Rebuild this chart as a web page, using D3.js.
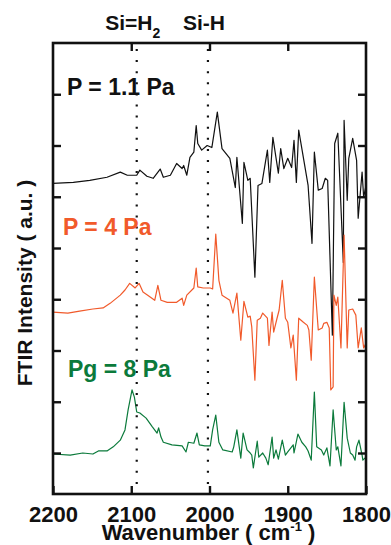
<!DOCTYPE html>
<html>
<head>
<meta charset="utf-8">
<script src="https://cdn.jsdelivr.net/npm/d3@7"></script>
<style>
  html, body { margin: 0; padding: 0; background: #fff; }
  svg { display: block; }
  text { font-family: "Liberation Sans", Arial, Helvetica, sans-serif; font-weight: bold; }
</style>
</head>
<body>
<svg id="chart" width="391" height="545"></svg>
<script>
// Wavenumber axis (cm^-1) and intensity ticks (arbitrary units, one unit per tick)
const xTicks = [2200, 2100, 2000, 1900, 1800];
const yTicks = [0, 1, 2, 3, 4, 5, 6, 7];

// Spectrum at P = 1.1 Pa
const wnLow = [2200, 2174, 2153, 2131, 2114, 2105, 2093, 2089, 2080, 2072, 2063, 2059, 2050, 2042, 2035, 2033, 2029, 2025, 2020, 2017, 2015, 2010, 2003, 1997, 1990, 1984, 1974, 1967, 1965, 1958, 1956, 1951, 1948, 1942, 1938, 1933, 1926, 1923, 1919, 1912, 1909, 1905, 1900, 1895, 1892, 1889, 1886, 1874, 1869, 1866, 1861, 1856, 1852, 1849, 1843, 1840, 1836, 1829, 1828, 1824, 1822, 1817, 1812, 1810, 1805, 1803, 1800];
const intLow = [5.26, 5.28, 5.32, 5.38, 5.48, 5.42, 5.42, 5.52, 5.40, 5.36, 5.54, 5.38, 5.42, 5.65, 5.55, 5.61, 5.42, 5.77, 5.87, 6.39, 6.04, 5.91, 6.00, 5.96, 6.65, 5.94, 5.75, 5.18, 5.77, 4.48, 5.67, 5.32, 5.36, 3.43, 5.22, 5.26, 5.91, 5.28, 6.16, 5.46, 5.94, 5.55, 5.75, 5.57, 6.10, 5.28, 6.30, 5.22, 4.09, 5.87, 5.13, 5.16, 5.36, 5.32, 2.30, 6.04, 6.24, 3.72, 6.49, 4.93, 5.75, 6.14, 5.71, 4.58, 5.48, 4.99, 5.22];

// Spectrum at P = 4 Pa
const wnMid = [2200, 2181, 2166, 2149, 2136, 2127, 2114, 2108, 2102, 2095, 2090, 2085, 2079, 2070, 2066, 2062, 2054, 2042, 2035, 2033, 2029, 2020, 2017, 2015, 2008, 1999, 1996, 1992, 1988, 1984, 1974, 1970, 1965, 1960, 1956, 1951, 1948, 1946, 1942, 1939, 1935, 1932, 1926, 1924, 1920, 1918, 1914, 1911, 1907, 1903, 1900, 1896, 1893, 1889, 1886, 1880, 1875, 1873, 1870, 1866, 1861, 1856, 1854, 1850, 1847, 1845, 1842, 1841, 1838, 1836, 1832, 1828, 1824, 1822, 1817, 1813, 1810, 1806, 1803, 1800];
const intMid = [2.75, 2.73, 2.77, 2.81, 2.83, 2.92, 3.08, 3.18, 3.31, 3.22, 3.31, 3.14, 3.08, 2.98, 3.27, 2.98, 2.94, 2.94, 3.02, 2.88, 3.08, 3.22, 3.61, 3.24, 3.22, 3.22, 3.20, 4.27, 3.37, 3.08, 2.98, 2.73, 3.12, 2.20, 2.96, 2.65, 2.67, 2.46, 1.42, 2.59, 2.63, 2.73, 2.63, 2.10, 2.75, 2.36, 2.61, 2.79, 3.37, 2.63, 2.55, 2.05, 2.30, 1.42, 2.63, 2.55, 2.49, 2.40, 1.81, 3.43, 2.40, 2.44, 2.53, 2.55, 2.44, 1.23, 1.29, 3.08, 2.88, 3.04, 2.05, 4.25, 2.05, 2.79, 2.81, 2.69, 2.05, 2.44, 2.05, 2.14];

// Spectrum at Pg = 8 Pa
const wnHigh = [2200, 2178, 2162, 2149, 2142, 2131, 2123, 2114, 2108, 2104, 2099, 2096, 2093, 2089, 2081, 2073, 2067, 2065, 2062, 2059, 2048, 2035, 2030, 2027, 2020, 2016, 2013, 2006, 1999, 1996, 1992, 1988, 1983, 1971, 1969, 1965, 1962, 1960, 1957, 1952, 1948, 1946, 1944, 1939, 1937, 1932, 1928, 1925, 1920, 1918, 1915, 1912, 1907, 1903, 1900, 1893, 1892, 1887, 1882, 1877, 1874, 1870, 1866, 1863, 1857, 1854, 1850, 1846, 1842, 1838, 1836, 1832, 1828, 1824, 1820, 1817, 1814, 1812, 1809, 1805, 1804, 1800];
const intHigh = [-0.02, -0.04, 0.00, -0.02, 0.04, 0.04, 0.12, 0.25, 0.45, 0.84, 1.23, 1.09, 0.80, 0.78, 0.68, 0.51, 0.39, 0.49, 0.31, 0.21, 0.16, 0.14, 0.02, 0.21, 0.19, 0.39, 0.16, 0.14, 0.14, 0.45, 0.74, 0.21, 0.06, 0.02, 0.12, 0.45, 0.12, -0.10, 0.39, 0.06, 0.00, -0.04, -0.29, 0.23, -0.08, 0.00, -0.10, -0.23, 0.31, -0.10, 0.06, -0.12, 0.25, -0.04, 0.02, 0.16, 0.00, 0.37, 0.21, 0.12, 0.04, -0.14, 1.19, 0.12, 0.06, -0.04, 0.10, -0.25, 0.84, 0.06, 0.12, -0.25, 0.99, 0.29, 0.00, -0.04, -0.14, 0.12, 0.25, -0.04, -0.14, -0.08];

// Series labels and colours
const seriesNames = ["P = 1.1 Pa", "P = 4 Pa", "Pg = 8 Pa"];
const seriesColors = ["#111111", "#f15a2b", "#0b7a3b"];

// Bond assignments marked with dotted lines
const bondNames = ["Si=H", "Si-H"];
const bondSubs = ["2", ""];
const bondPositions = [2093, 2002];

const svg = d3.select("#chart");
const plotLeft = 53, plotRight = 366, plotTop = 43, plotBottom = 494;

const x = d3.scaleLinear().domain([2200, 1800]).range([plotLeft, plotRight]);
const y = d3.scaleLinear().domain([-0.8, 8]).range([plotBottom, plotTop]);

const series = [
  { wn: wnLow, val: intLow },
  { wn: wnMid, val: intMid },
  { wn: wnHigh, val: intHigh }
].map((s, i) => ({
  name: seriesNames[i],
  color: seriesColors[i],
  points: s.wn.map((w, j) => [w, s.val[j]])
}));

const line = d3.line().x(d => x(d[0])).y(d => y(d[1]));

// Spectra
svg.append("g").selectAll("path")
  .data(series)
  .join("path")
  .attr("d", d => line(d.points))
  .attr("fill", "none")
  .attr("stroke", d => d.color)
  .attr("stroke-width", 1.2)
  .attr("stroke-linejoin", "round");

// Dotted reference lines
svg.append("g").selectAll("line")
  .data(bondPositions)
  .join("line")
  .attr("x1", d => x(d)).attr("x2", d => x(d))
  .attr("y1", plotTop + 6).attr("y2", plotBottom)
  .attr("stroke", "#111")
  .attr("stroke-width", 2.2)
  .attr("stroke-dasharray", "2,9.1");

// Axes with inward ticks
const tickLen = 8;
const axisStyle = g => {
  g.select(".domain").remove();
  g.selectAll(".tick line").attr("stroke", "#111").attr("stroke-width", 2.4);
};

svg.append("g")
  .attr("transform", `translate(0,${plotBottom})`)
  .call(d3.axisBottom(x).tickValues(xTicks).tickSize(-tickLen).tickPadding(12).tickFormat(d3.format("d")))
  .call(axisStyle)
  .call(g => g.selectAll(".tick text")
    .attr("font-size", 22).attr("font-weight", "bold")
    .attr("font-family", "Liberation Sans, Arial, sans-serif").attr("fill", "#111"));

svg.append("g")
  .attr("transform", `translate(0,${plotTop})`)
  .call(d3.axisTop(x).tickValues(xTicks.slice(1, -1)).tickSize(-tickLen).tickFormat(""))
  .call(axisStyle);

svg.append("g")
  .attr("transform", `translate(${plotLeft},0)`)
  .call(d3.axisLeft(y).tickValues(yTicks).tickSize(-tickLen).tickFormat(""))
  .call(axisStyle);

svg.append("g")
  .attr("transform", `translate(${plotRight},0)`)
  .call(d3.axisRight(y).tickValues(yTicks).tickSize(-tickLen).tickFormat(""))
  .call(axisStyle);

// Frame
svg.append("rect")
  .attr("x", plotLeft).attr("y", plotTop)
  .attr("width", plotRight - plotLeft).attr("height", plotBottom - plotTop)
  .attr("fill", "none")
  .attr("stroke", "#111")
  .attr("stroke-width", 2.6);

// Series labels
const labelPos = [[67, 95], [63, 235], [68, 377]];
svg.append("g").selectAll("text")
  .data(series)
  .join("text")
  .attr("x", (d, i) => labelPos[i][0])
  .attr("y", (d, i) => labelPos[i][1])
  .attr("font-size", 23)
  .attr("fill", d => d.color)
  .text(d => d.name);

// Bond labels above the frame
const bondLabels = svg.append("g").selectAll("text")
  .data(bondNames.map((name, i) => ({ name, sub: bondSubs[i], pos: bondPositions[i] })))
  .join("text")
  .attr("x", d => x(d.pos) - 4)
  .attr("y", 30)
  .attr("text-anchor", "middle")
  .attr("font-size", 21)
  .attr("fill", "#111");
bondLabels.append("tspan").text(d => d.name);
bondLabels.filter(d => d.sub !== "")
  .append("tspan")
  .attr("font-size", 14)
  .attr("dy", 8)
  .text(d => d.sub);

// Axis titles
const xTitle = svg.append("text")
  .attr("x", (plotLeft + plotRight) / 2 - 1)
  .attr("y", 540)
  .attr("text-anchor", "middle")
  .attr("font-size", 22)
  .attr("fill", "#111");
xTitle.append("tspan").text("Wavenumber ( cm");
xTitle.append("tspan").attr("font-size", 13).attr("dy", -9).text("-1");
xTitle.append("tspan").attr("dy", 9).text(" )");

svg.append("text")
  .attr("transform", "translate(32,283) rotate(-90)")
  .attr("text-anchor", "middle")
  .attr("font-size", 21)
  .attr("fill", "#111")
  .text("FTIR Intensity ( a.u. )");
</script>
</body>
</html>
